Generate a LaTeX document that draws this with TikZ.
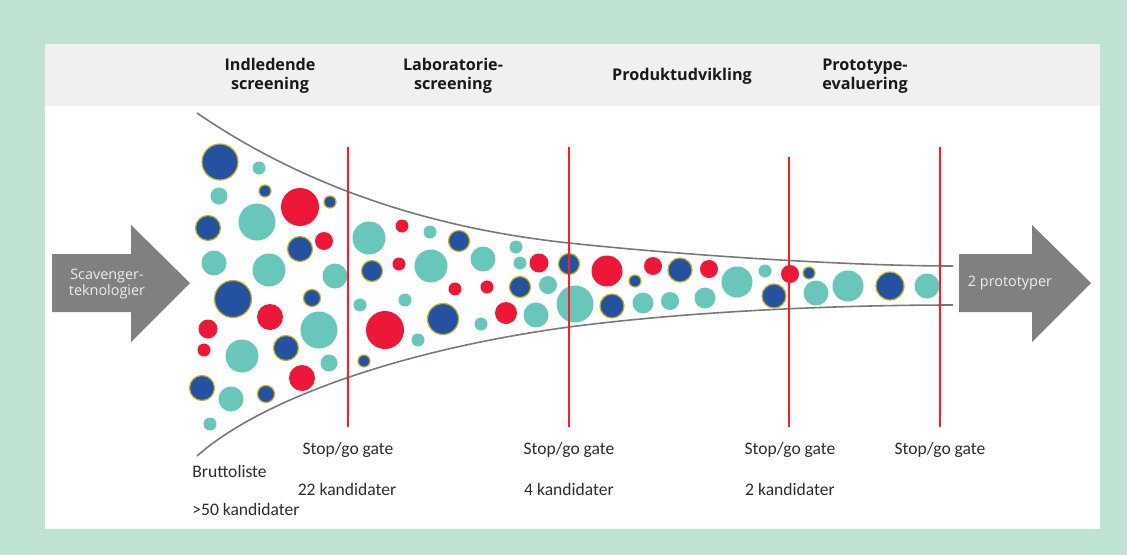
\documentclass[tikz,border=0pt]{standalone}
\usepackage{fontspec}
\setmainfont{Carlito}
\newfontfamily\headfont{Open Sans}
\usepackage{tikz}
\definecolor{framegreen}{RGB}{191,226,210}
\definecolor{bandgrey}{RGB}{240,240,240}
\definecolor{phasetext}{RGB}{25,25,25}
\definecolor{labeltext}{RGB}{45,45,45}
\definecolor{arrowgrey}{RGB}{128,128,128}
\definecolor{arrowtext}{RGB}{238,238,238}
\definecolor{funnelgrey}{RGB}{120,120,120}
\definecolor{gatered}{RGB}{250,30,35}
\definecolor{dotteal}{RGB}{104,199,186}
\definecolor{dotnavy}{RGB}{37,82,160}
\definecolor{dotrim}{RGB}{190,178,40}
\definecolor{dotred}{RGB}{237,23,56}
\tikzset{
  phase/.style={font=\headfont\bfseries\fontsize{9.2}{10.8}\selectfont,
    align=center, text=phasetext},
  gatelabel/.style={font=\fontsize{10}{12}\selectfont, text=labeltext,
    inner sep=0pt},
  arrowlabel/.style={font=\headfont\fontsize{8.2}{9.6}\selectfont,
    text=arrowtext, align=center, inner sep=0pt},
  tealdot/.style={fill=dotteal},
  navydot/.style={fill=dotnavy, draw=dotrim, line width=0.7pt},
  reddot/.style={fill=dotred},
  gateline/.style={draw=gatered, line width=1.1pt},
  funnel/.style={draw=funnelgrey, line width=0.9pt},
  bigarrow/.style={fill=arrowgrey}
}

\begin{document}
\begin{tikzpicture}[x=0.02cm, y=-0.02cm]
  \useasboundingbox (0,0) rectangle (1127,555);

  % Frame, panel and header band
  \fill[framegreen] (0,0) rectangle (1127,555);
  \fill[white] (45,44) rectangle (1100,529);
  \fill[bandgrey] (45,44) rectangle (1100,106);

  % Phase headings
  \node[phase] (hdrscreen) at (270,76) {Indledende\\screening};
  \node[phase] (hdrlab) at (453,76) {Laboratorie-\\screening};
  \node[phase] (hdrprod) at (682,76) {Produktudvikling};
  \node[phase] (hdreval) at (865,76) {Prototype-\\evaluering};

  % In- and outgoing arrows
  \fill[bigarrow] (52,254) -- (131,254) -- (131,225) -- (190,283)
    -- (131,342) -- (131,312) -- (52,312) -- cycle;
  \fill[bigarrow] (959,254) -- (1032,254) -- (1032,225) -- (1091,283)
    -- (1032,342) -- (1032,312) -- (959,312) -- cycle;
  \node[arrowlabel] (inlabel) at (107,284) {Scavenger-\\teknologier};
  \node[arrowlabel] (outlabel) at (1010,283) {2 prototyper};

  % Candidates
  \foreach \x/\y/\r in {259/168/6.5, 219/196/8.5, 257/222/18.5, 214/263/12.5,
      269/270/16.5, 335/276/12.5, 319/330/18.5, 242/356/16.5, 329/363/8.5,
      231/399/12.5, 210/424/6.5, 369/238/16.5, 430/232/6.5, 431/266/16.5,
      483/259/12.5, 516/247/6.5, 520/263/6.5, 548/285/9, 575/304/18.5,
      360/305/6.5, 405/300/6.5, 481/324/6.5, 536/315/12.5, 418/340/6.5,
      643/303/10.5, 670/301/9, 705/298/10.5, 737/282/15.5, 765/271/6.5,
      816/293/12.5, 848/286/15.5, 927/286/12.5}
    \fill[tealdot] (\x,\y) circle[radius=\r*0.02cm];
  \foreach \x/\y/\r in {220/162/18, 265/191/6, 330/202/6, 208/228/12.5,
      300/249/12.5, 233/299/18.5, 312/298/8.5, 286/348/12.5, 202/388/12.5,
      266/394/8.5, 459/241/10.5, 372/271/10.5, 569/264/10.5, 520/287/10.5,
      443/319/15.5, 364/361/6, 635/281/6, 680/270/12, 612/306/12,
      809/273/6, 774/296/12, 890/286/14}
    \filldraw[navydot] (\x,\y) circle[radius=\r*0.02cm];
  \foreach \x/\y/\r in {300/207/19, 324/241/9, 270/317/13, 208/329/9.5,
      204/350/6.5, 302/378/13, 402/226/6.5, 399/264/6.5, 539/263/9.5,
      607/271/15.5, 455/289/6.5, 487/287/6.5, 385/330/19, 506/313/11,
      653/266/9, 709/269/9, 790/274/9}
    \fill[reddot] (\x,\y) circle[radius=\r*0.02cm];

  % Funnel walls
  \draw[funnel] (197,113) .. controls (280,170) and (400,225) .. (569,243)
    .. controls (680,255) and (850,266) .. (953,266);
  \draw[funnel] (197,456) .. controls (260,400) and (400,350) .. (569,327)
    .. controls (700,310) and (850,305) .. (953,305);

  % Stop/go gates
  \foreach \x/\top in {348/147, 569/147, 789/157, 940/147}
    \draw[gateline] (\x,\top) -- (\x,427);

  % Gate labels
  \node[gatelabel] (gateone) at (348,450) {Stop/go gate};
  \node[gatelabel] (gatetwo) at (569,450) {Stop/go gate};
  \node[gatelabel] (gatethree) at (790,450) {Stop/go gate};
  \node[gatelabel] (gatefour) at (940,450) {Stop/go gate};
  \node[gatelabel] (countone) at (347,489) {22 kandidater};
  \node[gatelabel] (counttwo) at (569,489) {4 kandidater};
  \node[gatelabel] (countthree) at (790,489) {2 kandidater};
  \node[gatelabel, anchor=west] (grosslist) at (192,471) {Bruttoliste};
  \node[gatelabel, anchor=west] (grosscount) at (192,509) {>50 kandidater};
\end{tikzpicture}
\end{document}
